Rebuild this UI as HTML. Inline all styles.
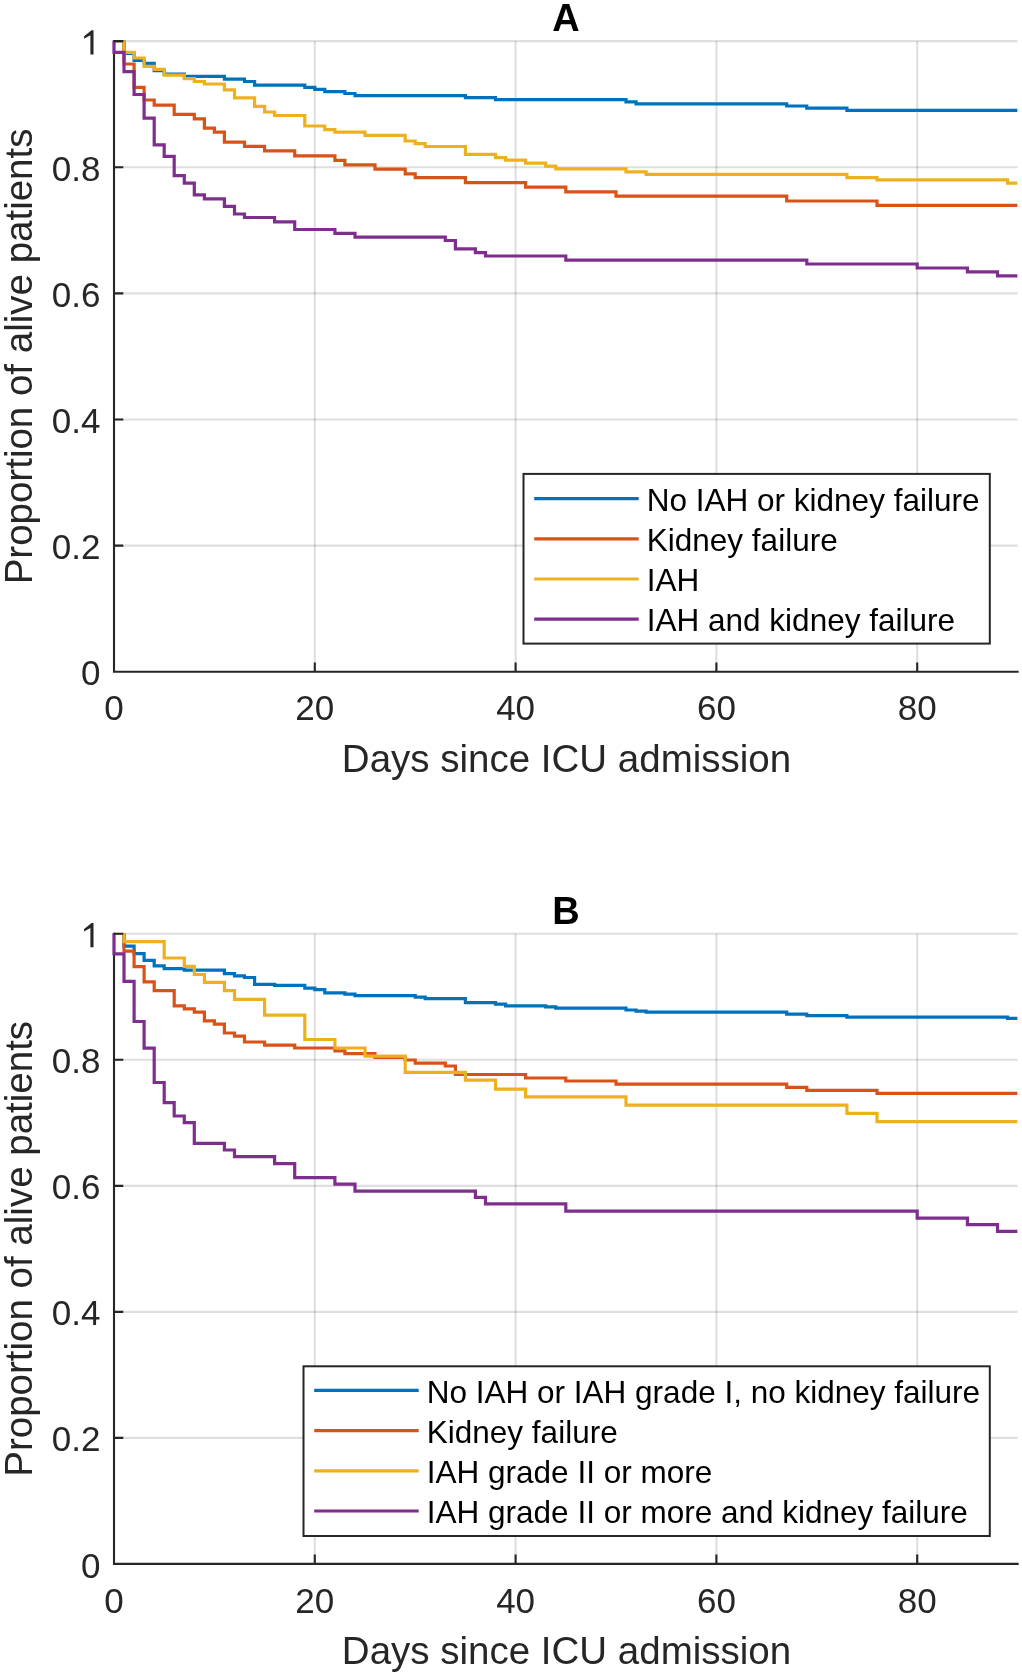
<!DOCTYPE html><html><head><meta charset="utf-8"><style>html,body{margin:0;padding:0;background:#fff;}svg{display:block;will-change:transform}text{font-family:"Liberation Sans",sans-serif;}</style></head><body>
<svg width="1022" height="1676" viewBox="0 0 1022 1676">
<rect width="1022" height="1676" fill="#fff"/>
<path d="M314.80 41.10V671.80M515.60 41.10V671.80M716.40 41.10V671.80M917.20 41.10V671.80" stroke="#262626" stroke-opacity="0.15" stroke-width="2.1" fill="none"/>
<path d="M114.00 545.66H1017.60M114.00 419.52H1017.60M114.00 293.38H1017.60M114.00 167.24H1017.60M114.00 41.10H1017.60" stroke="#262626" stroke-opacity="0.15" stroke-width="2.1" fill="none"/>
<path d="M114.00 41.10V671.80H1017.60" stroke="#262626" stroke-width="2.1" fill="none" stroke-linecap="square"/>
<clipPath id="clipA"><rect x="94.00" y="40.40" width="923.60" height="650.70"/></clipPath>
<g clip-path="url(#clipA)">
<path d="M114.0 40.6 L124.0 40.6 L124.0 53.3 L134.1 53.3 L134.1 60.3 L144.1 60.3 L144.1 63.3 L154.2 63.3 L154.2 70.7 L164.2 70.7 L164.2 74.0 L184.3 74.0 L184.3 76.4 L224.4 76.4 L224.4 79.1 L244.5 79.1 L244.5 81.5 L254.6 81.5 L254.6 85.2 L304.8 85.2 L304.8 87.3 L314.8 87.3 L314.8 89.4 L324.8 89.4 L324.8 91.7 L344.9 91.7 L344.9 93.5 L355.0 93.5 L355.0 95.6 L465.4 95.6 L465.4 97.6 L495.5 97.6 L495.5 99.6 L626.0 99.6 L626.0 101.9 L636.1 101.9 L636.1 103.8 L786.7 103.8 L786.7 106.0 L806.8 106.0 L806.8 108.1 L846.9 108.1 L846.9 110.4 L1017.6 110.4" stroke="#0072BD" stroke-width="3.2" fill="none" stroke-linejoin="miter" stroke-linecap="butt"/>
<path d="M114.0 40.6 L124.0 40.6 L124.0 64.0 L134.1 64.0 L134.1 87.4 L144.1 87.4 L144.1 100.0 L154.2 100.0 L154.2 105.1 L174.2 105.1 L174.2 114.3 L194.3 114.3 L194.3 118.8 L204.4 118.8 L204.4 128.2 L214.4 128.2 L214.4 132.2 L224.4 132.2 L224.4 142.1 L244.5 142.1 L244.5 146.4 L264.6 146.4 L264.6 150.8 L294.7 150.8 L294.7 155.9 L334.9 155.9 L334.9 160.3 L344.9 160.3 L344.9 164.9 L375.0 164.9 L375.0 169.1 L405.2 169.1 L405.2 173.8 L415.2 173.8 L415.2 177.6 L465.4 177.6 L465.4 182.7 L525.6 182.7 L525.6 187.2 L565.8 187.2 L565.8 191.9 L616.0 191.9 L616.0 196.1 L786.7 196.1 L786.7 201.0 L877.0 201.0 L877.0 205.4 L1017.6 205.4" stroke="#D95319" stroke-width="3.2" fill="none" stroke-linejoin="miter" stroke-linecap="butt"/>
<path d="M114.0 40.6 L124.0 40.6 L124.0 52.4 L134.1 52.4 L134.1 58.0 L144.1 58.0 L144.1 66.3 L154.2 66.3 L154.2 69.4 L164.2 69.4 L164.2 75.1 L184.3 75.1 L184.3 78.6 L194.3 78.6 L194.3 81.5 L204.4 81.5 L204.4 84.0 L224.4 84.0 L224.4 89.8 L234.5 89.8 L234.5 97.9 L254.6 97.9 L254.6 106.3 L264.6 106.3 L264.6 112.0 L274.6 112.0 L274.6 115.5 L304.8 115.5 L304.8 126.0 L324.8 126.0 L324.8 129.6 L334.9 129.6 L334.9 132.2 L365.0 132.2 L365.0 135.4 L405.2 135.4 L405.2 141.0 L415.2 141.0 L415.2 143.6 L425.2 143.6 L425.2 146.5 L465.4 146.5 L465.4 154.4 L495.5 154.4 L495.5 157.7 L505.6 157.7 L505.6 160.2 L525.6 160.2 L525.6 163.2 L545.7 163.2 L545.7 166.1 L555.8 166.1 L555.8 168.8 L626.0 168.8 L626.0 171.9 L646.1 171.9 L646.1 174.3 L846.9 174.3 L846.9 177.7 L877.0 177.7 L877.0 179.9 L1007.6 179.9 L1007.6 183.2 L1017.6 183.2" stroke="#EDB120" stroke-width="3.2" fill="none" stroke-linejoin="miter" stroke-linecap="butt"/>
<path d="M114.0 40.6 L114.0 52.4 L124.0 52.4 L124.0 71.7 L134.1 71.7 L134.1 94.5 L144.1 94.5 L144.1 118.1 L154.2 118.1 L154.2 144.8 L164.2 144.8 L164.2 156.4 L174.2 156.4 L174.2 175.6 L184.3 175.6 L184.3 183.2 L194.3 183.2 L194.3 194.8 L204.4 194.8 L204.4 198.9 L224.4 198.9 L224.4 206.4 L234.5 206.4 L234.5 214.0 L244.5 214.0 L244.5 217.5 L274.6 217.5 L274.6 221.9 L294.7 221.9 L294.7 229.5 L334.9 229.5 L334.9 233.4 L355.0 233.4 L355.0 237.2 L445.3 237.2 L445.3 240.5 L455.4 240.5 L455.4 248.8 L475.4 248.8 L475.4 252.7 L485.5 252.7 L485.5 256.0 L565.8 256.0 L565.8 260.1 L806.8 260.1 L806.8 264.0 L917.2 264.0 L917.2 268.0 L967.4 268.0 L967.4 271.9 L997.5 271.9 L997.5 275.8 L1017.6 275.8" stroke="#7E2F8E" stroke-width="3.2" fill="none" stroke-linejoin="miter" stroke-linecap="butt"/>
</g>
<path d="M314.80 671.80v-9.3M515.60 671.80v-9.3M716.40 671.80v-9.3M917.20 671.80v-9.3M114.00 545.66h9.3M114.00 419.52h9.3M114.00 293.38h9.3M114.00 167.24h9.3M114.00 41.10h9.3" stroke="#262626" stroke-width="2.1" fill="none"/>
<path transform="translate(0 0.00)" d="M93.5 30.3H91.6L84.1 36.2V38.8L90.4 35.2V54.5H93.5Z" fill="#262626"/>
<text x="100.5" y="685.40" font-size="35" text-anchor="end" fill="#262626">0</text>
<text x="100.5" y="559.26" font-size="35" text-anchor="end" fill="#262626">0.2</text>
<text x="100.5" y="433.12" font-size="35" text-anchor="end" fill="#262626">0.4</text>
<text x="100.5" y="306.98" font-size="35" text-anchor="end" fill="#262626">0.6</text>
<text x="100.5" y="180.84" font-size="35" text-anchor="end" fill="#262626">0.8</text>
<text x="114.00" y="720.40" font-size="35" text-anchor="middle" fill="#262626">0</text>
<text x="314.80" y="720.40" font-size="35" text-anchor="middle" fill="#262626">20</text>
<text x="515.60" y="720.40" font-size="35" text-anchor="middle" fill="#262626">40</text>
<text x="716.40" y="720.40" font-size="35" text-anchor="middle" fill="#262626">60</text>
<text x="917.20" y="720.40" font-size="35" text-anchor="middle" fill="#262626">80</text>
<text x="566.5" y="771.80" font-size="38.5" text-anchor="middle" fill="#262626">Days since ICU admission</text>
<text transform="translate(32.2 356.45) rotate(-90)" x="0" y="0" font-size="38.5" text-anchor="middle" fill="#262626">Proportion of alive patients</text>
<text x="566" y="30.80" font-size="38" font-weight="bold" text-anchor="middle" fill="#000">A</text>
<rect x="523.5" y="473.9" width="466.30" height="169.70" fill="#fff" stroke="#262626" stroke-width="2"/>
<path d="M534.2 498.6H638.7" stroke="#0072BD" stroke-width="3.2"/>
<text x="646.8" y="510.80" font-size="31.5" fill="#000">No IAH or kidney failure</text>
<path d="M534.2 538.8H638.7" stroke="#D95319" stroke-width="3.2"/>
<text x="646.8" y="551.00" font-size="31.5" fill="#000">Kidney failure</text>
<path d="M534.2 579.0H638.7" stroke="#EDB120" stroke-width="3.2"/>
<text x="646.8" y="591.20" font-size="31.5" fill="#000">IAH</text>
<path d="M534.2 619.2H638.7" stroke="#7E2F8E" stroke-width="3.2"/>
<text x="646.8" y="631.40" font-size="31.5" fill="#000">IAH and kidney failure</text>
<path d="M314.80 933.80V1563.90M515.60 933.80V1563.90M716.40 933.80V1563.90M917.20 933.80V1563.90" stroke="#262626" stroke-opacity="0.15" stroke-width="2.1" fill="none"/>
<path d="M114.00 1437.88H1017.60M114.00 1311.86H1017.60M114.00 1185.84H1017.60M114.00 1059.82H1017.60M114.00 933.80H1017.60" stroke="#262626" stroke-opacity="0.15" stroke-width="2.1" fill="none"/>
<path d="M114.00 933.80V1563.90H1017.60" stroke="#262626" stroke-width="2.1" fill="none" stroke-linecap="square"/>
<clipPath id="clipB"><rect x="94.00" y="933.10" width="923.60" height="650.10"/></clipPath>
<g clip-path="url(#clipB)">
<path d="M114.0 933.3 L124.0 933.3 L124.0 946.2 L134.1 946.2 L134.1 953.6 L144.1 953.6 L144.1 960.4 L154.2 960.4 L154.2 965.9 L164.2 965.9 L164.2 968.6 L184.3 968.6 L184.3 970.2 L224.4 970.2 L224.4 973.6 L234.5 973.6 L234.5 975.8 L244.5 975.8 L244.5 977.5 L254.6 977.5 L254.6 984.3 L274.6 984.3 L274.6 985.4 L304.8 985.4 L304.8 988.2 L314.8 988.2 L314.8 989.7 L324.8 989.7 L324.8 992.9 L344.9 992.9 L344.9 994.1 L355.0 994.1 L355.0 995.6 L415.2 995.6 L415.2 997.2 L425.2 997.2 L425.2 998.7 L465.4 998.7 L465.4 1002.6 L495.5 1002.6 L495.5 1004.1 L505.6 1004.1 L505.6 1005.8 L545.7 1005.8 L545.7 1006.9 L555.8 1006.9 L555.8 1008.2 L626.0 1008.2 L626.0 1010.0 L636.1 1010.0 L636.1 1011.1 L646.1 1011.1 L646.1 1012.2 L786.7 1012.2 L786.7 1014.1 L806.8 1014.1 L806.8 1015.6 L846.9 1015.6 L846.9 1017.2 L1007.6 1017.2 L1007.6 1018.4 L1017.6 1018.4" stroke="#0072BD" stroke-width="3.2" fill="none" stroke-linejoin="miter" stroke-linecap="butt"/>
<path d="M114.0 933.3 L124.0 933.3 L124.0 951.2 L134.1 951.2 L134.1 966.6 L144.1 966.6 L144.1 981.8 L154.2 981.8 L154.2 990.7 L174.2 990.7 L174.2 1005.8 L184.3 1005.8 L184.3 1008.8 L194.3 1008.8 L194.3 1012.2 L204.4 1012.2 L204.4 1020.8 L214.4 1020.8 L214.4 1024.2 L224.4 1024.2 L224.4 1033.0 L234.5 1033.0 L234.5 1036.2 L244.5 1036.2 L244.5 1042.0 L264.6 1042.0 L264.6 1045.1 L294.7 1045.1 L294.7 1048.0 L334.9 1048.0 L334.9 1050.8 L344.9 1050.8 L344.9 1053.7 L375.0 1053.7 L375.0 1057.5 L405.2 1057.5 L405.2 1060.0 L415.2 1060.0 L415.2 1063.2 L445.3 1063.2 L445.3 1066.0 L455.4 1066.0 L455.4 1074.5 L525.6 1074.5 L525.6 1078.0 L565.8 1078.0 L565.8 1081.0 L616.0 1081.0 L616.0 1084.1 L786.7 1084.1 L786.7 1087.3 L806.8 1087.3 L806.8 1090.3 L877.0 1090.3 L877.0 1093.3 L1017.6 1093.3" stroke="#D95319" stroke-width="3.2" fill="none" stroke-linejoin="miter" stroke-linecap="butt"/>
<path d="M114.0 933.3 L124.0 933.3 L124.0 941.6 L164.2 941.6 L164.2 958.0 L184.3 958.0 L184.3 966.3 L194.3 966.3 L194.3 974.5 L204.4 974.5 L204.4 982.3 L224.4 982.3 L224.4 990.7 L234.5 990.7 L234.5 999.4 L264.6 999.4 L264.6 1015.1 L304.8 1015.1 L304.8 1039.5 L334.9 1039.5 L334.9 1048.0 L365.0 1048.0 L365.0 1056.1 L405.2 1056.1 L405.2 1072.4 L465.4 1072.4 L465.4 1080.1 L495.5 1080.1 L495.5 1089.1 L525.6 1089.1 L525.6 1096.8 L626.0 1096.8 L626.0 1105.2 L846.9 1105.2 L846.9 1113.3 L877.0 1113.3 L877.0 1121.7 L1017.6 1121.7" stroke="#EDB120" stroke-width="3.2" fill="none" stroke-linejoin="miter" stroke-linecap="butt"/>
<path d="M114.0 933.3 L114.0 953.9 L124.0 953.9 L124.0 981.4 L134.1 981.4 L134.1 1021.5 L144.1 1021.5 L144.1 1048.1 L154.2 1048.1 L154.2 1082.5 L164.2 1082.5 L164.2 1102.7 L174.2 1102.7 L174.2 1116.0 L184.3 1116.0 L184.3 1122.6 L194.3 1122.6 L194.3 1143.4 L224.4 1143.4 L224.4 1150.0 L234.5 1150.0 L234.5 1156.6 L274.6 1156.6 L274.6 1163.7 L294.7 1163.7 L294.7 1177.6 L334.9 1177.6 L334.9 1184.2 L355.0 1184.2 L355.0 1191.2 L475.4 1191.2 L475.4 1197.3 L485.5 1197.3 L485.5 1203.8 L565.8 1203.8 L565.8 1211.2 L917.2 1211.2 L917.2 1218.1 L967.4 1218.1 L967.4 1224.7 L997.5 1224.7 L997.5 1231.3 L1017.6 1231.3" stroke="#7E2F8E" stroke-width="3.2" fill="none" stroke-linejoin="miter" stroke-linecap="butt"/>
</g>
<path d="M314.80 1563.90v-9.3M515.60 1563.90v-9.3M716.40 1563.90v-9.3M917.20 1563.90v-9.3M114.00 1437.88h9.3M114.00 1311.86h9.3M114.00 1185.84h9.3M114.00 1059.82h9.3M114.00 933.80h9.3" stroke="#262626" stroke-width="2.1" fill="none"/>
<path transform="translate(0 892.70)" d="M93.5 30.3H91.6L84.1 36.2V38.8L90.4 35.2V54.5H93.5Z" fill="#262626"/>
<text x="100.5" y="1577.50" font-size="35" text-anchor="end" fill="#262626">0</text>
<text x="100.5" y="1451.48" font-size="35" text-anchor="end" fill="#262626">0.2</text>
<text x="100.5" y="1325.46" font-size="35" text-anchor="end" fill="#262626">0.4</text>
<text x="100.5" y="1199.44" font-size="35" text-anchor="end" fill="#262626">0.6</text>
<text x="100.5" y="1073.42" font-size="35" text-anchor="end" fill="#262626">0.8</text>
<text x="114.00" y="1612.50" font-size="35" text-anchor="middle" fill="#262626">0</text>
<text x="314.80" y="1612.50" font-size="35" text-anchor="middle" fill="#262626">20</text>
<text x="515.60" y="1612.50" font-size="35" text-anchor="middle" fill="#262626">40</text>
<text x="716.40" y="1612.50" font-size="35" text-anchor="middle" fill="#262626">60</text>
<text x="917.20" y="1612.50" font-size="35" text-anchor="middle" fill="#262626">80</text>
<text x="566.5" y="1663.90" font-size="38.5" text-anchor="middle" fill="#262626">Days since ICU admission</text>
<text transform="translate(32.2 1248.85) rotate(-90)" x="0" y="0" font-size="38.5" text-anchor="middle" fill="#262626">Proportion of alive patients</text>
<text x="566" y="923.50" font-size="38" font-weight="bold" text-anchor="middle" fill="#000">B</text>
<rect x="303.5" y="1366.3" width="686.30" height="169.70" fill="#fff" stroke="#262626" stroke-width="2"/>
<path d="M314.2 1390.4H418.7" stroke="#0072BD" stroke-width="3.2"/>
<text x="426.8" y="1402.60" font-size="31.5" fill="#000">No IAH or IAH grade I, no kidney failure</text>
<path d="M314.2 1430.6H418.7" stroke="#D95319" stroke-width="3.2"/>
<text x="426.8" y="1442.80" font-size="31.5" fill="#000">Kidney failure</text>
<path d="M314.2 1470.8H418.7" stroke="#EDB120" stroke-width="3.2"/>
<text x="426.8" y="1483.00" font-size="31.5" fill="#000">IAH grade II or more</text>
<path d="M314.2 1511.0H418.7" stroke="#7E2F8E" stroke-width="3.2"/>
<text x="426.8" y="1523.20" font-size="31.5" fill="#000">IAH grade II or more and kidney failure</text>
</svg></body></html>
